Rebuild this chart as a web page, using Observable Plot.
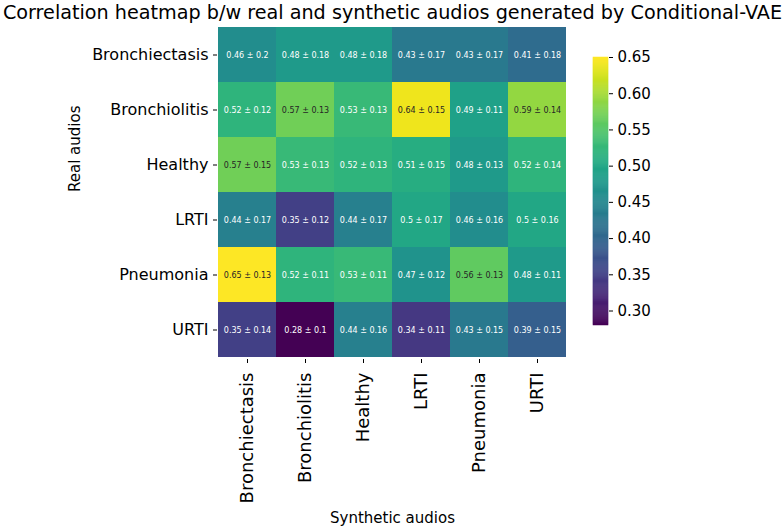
<!DOCTYPE html>
<html>
<head>
<meta charset="utf-8">
<script src="https://cdn.jsdelivr.net/npm/d3@7"></script>
<script src="https://cdn.jsdelivr.net/npm/@observablehq/plot@0.6"></script>
<style>
  html, body { margin: 0; padding: 0; background: white; }
  #wrap { position: relative; width: 784px; height: 528px; font-family: "DejaVu Sans", sans-serif; }
  #wrap svg { position: absolute; top: 0; overflow: visible; }
</style>
</head>
<body>
<div id="wrap"></div>
<script>
const realLabels = ["Bronchiectasis", "Bronchiolitis", "Healthy", "LRTI", "Pneumonia", "URTI"];
const synthLabels = ["Bronchiectasis", "Bronchiolitis", "Healthy", "LRTI", "Pneumonia", "URTI"];
const means = [
  [0.46, 0.48, 0.48, 0.43, 0.43, 0.41],
  [0.52, 0.57, 0.53, 0.64, 0.49, 0.59],
  [0.57, 0.53, 0.52, 0.51, 0.48, 0.52],
  [0.44, 0.35, 0.44, 0.5, 0.46, 0.5],
  [0.65, 0.52, 0.53, 0.47, 0.56, 0.48],
  [0.35, 0.28, 0.44, 0.34, 0.43, 0.39]
];
const stds = [
  [0.2, 0.18, 0.18, 0.17, 0.17, 0.18],
  [0.12, 0.13, 0.13, 0.15, 0.11, 0.14],
  [0.15, 0.13, 0.13, 0.15, 0.13, 0.14],
  [0.17, 0.12, 0.17, 0.17, 0.16, 0.16],
  [0.13, 0.11, 0.11, 0.12, 0.13, 0.11],
  [0.14, 0.1, 0.16, 0.11, 0.15, 0.15]
];
const colorTicks = [0.30, 0.35, 0.40, 0.45, 0.50, 0.55, 0.60, 0.65];
const title = "Correlation heatmap b/w real and synthetic audios generated by Conditional-VAE";
const xTitle = "Synthetic audios";
const yTitle = "Real audios";

const cells = [];
realLabels.forEach((r, i) => synthLabels.forEach((s, j) => cells.push({real: r, synth: s, m: means[i][j], sd: stds[i][j]})));
const domain = [0.28, 0.65];
const FONT = "DejaVu Sans";

const main = Plot.plot({
  width: 784, height: 528,
  marginLeft: 217, marginRight: 217, marginTop: 24, marginBottom: 169,
  style: {fontFamily: FONT, color: "black", background: "transparent", overflow: "visible"},
  x: {domain: synthLabels, padding: 0, label: null},
  y: {domain: realLabels, padding: 0, label: null},
  color: {type: "linear", scheme: "viridis", domain},
  marks: [
    Plot.cell(cells, {x: "synth", y: "real", fill: "m"}),
    Plot.text(cells, {x: "synth", y: "real", text: d => `${d.m} ± ${d.sd}`, fill: d => d.m >= 0.555 ? "#262626" : "white", fontSize: 8}),
    Plot.axisX({anchor: "bottom", tickRotate: -90, fontSize: 18, tickSize: 4, tickPadding: 9, label: null}),
    Plot.axisY({anchor: "left", fontSize: 16, tickSize: 4, tickPadding: 5, label: null}),
    Plot.text([title], {frameAnchor: "top", dy: -12, fontSize: 19.2, lineAnchor: "middle", fill: "black"}),
    Plot.text([xTitle], {frameAnchor: "bottom", dy: 159, fontSize: 15, lineAnchor: "middle", fill: "black"}),
    Plot.text([yTitle], {frameAnchor: "left", dx: -142, rotate: -90, fontSize: 15, lineAnchor: "middle", fill: "black"})
  ]
});
main.style.left = "0px";

const steps = d3.range(0, 256).map(k => {
  const a = domain[0] + (domain[1] - domain[0]) * k / 256;
  const b = domain[0] + (domain[1] - domain[0]) * (k + 1) / 256;
  return {y1: a, y2: b, v: (a + b) / 2};
});
const bar = Plot.plot({
  width: 80, height: 528,
  marginLeft: 0, marginRight: 65, marginTop: 57, marginBottom: 203,
  style: {fontFamily: FONT, color: "black", background: "transparent", overflow: "visible"},
  x: {domain: [0, 1], axis: null},
  y: {domain, axis: null},
  color: {type: "linear", scheme: "viridis", domain},
  marks: [
    Plot.rect(steps, {x1: 0, x2: 1, y1: "y1", y2: "y2", fill: "v", stroke: "v", strokeWidth: 0.5}),
    Plot.axisY({anchor: "right", ticks: colorTicks, tickFormat: d3.format(".2f"), fontSize: 15, tickSize: 4, tickPadding: 5, label: null})
  ]
});
bar.style.left = "593px";

const wrap = document.getElementById("wrap");
wrap.appendChild(main);
wrap.appendChild(bar);
</script>
</body>
</html>
